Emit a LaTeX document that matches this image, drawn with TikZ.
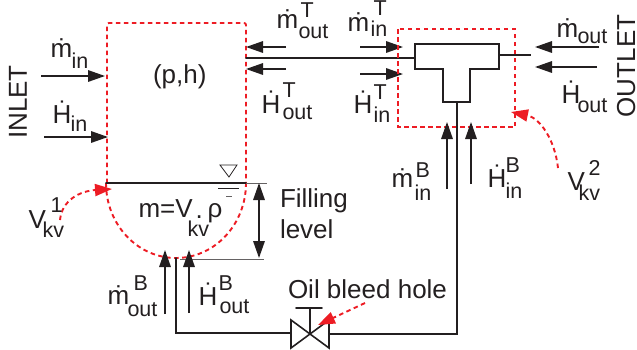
\documentclass[tikz,border=0pt]{standalone}
\usepackage{fontspec}
\setmainfont{Liberation Sans}
\usetikzlibrary{arrows.meta}
\definecolor{ink}{HTML}{231F20}
\definecolor{redl}{HTML}{ED1C24}
\newcommand{\fb}{\fontsize{26}{26}\selectfont}
\newcommand{\fs}{\fontsize{21.5}{21.5}\selectfont}
% piece of text at an offset from the node's base point
\newcommand{\pc}[3]{\makebox[0pt][l]{\hspace*{#1pt}\raisebox{#2pt}{#3}}}
% base, sub dx, sub drop, sub, sup dx, sup rise, sup
\newcommand{\flowlab}[7]{\pc{0}{0}{\fb #1}\pc{#2}{-#3}{\fs #4}\pc{#5}{#6}{\fs #7}}
\tikzset{
  x=1pt,y=-1pt,
  lab/.style={inner sep=0pt,outer sep=0pt,anchor=base west,text=ink,font=\fb},
  flow/.style={draw=ink,line width=1.6pt,-{Triangle[length=17pt,width=11.5pt]}},
  dbl/.style={draw=ink,line width=1.6pt,{Triangle[length=17pt,width=11.5pt]}-{Triangle[length=17pt,width=11.5pt]}},
  pipe/.style={draw=ink,line width=1.6pt,line cap=round,line join=miter},
  thinl/.style={draw=ink!70,line width=1pt},
  reddash/.style={draw=redl,line width=1.9pt,dash pattern=on 4.5pt off 3.5pt},
  redarrow/.style={reddash,-{Triangle[length=17pt,width=12pt]}},
}
\begin{document}
\begin{tikzpicture}
\useasboundingbox (0,0) rectangle (637,349);
% coordinates
\coordinate (tankTL) at (107,23);
\coordinate (tankTR) at (246,23);
\coordinate (levelL) at (106,183);
\coordinate (levelR) at (246,183);
\coordinate (levelE) at (267,183);
\coordinate (botS) at (180,259);
\coordinate (botE) at (264,259);
\coordinate (lvlA) at (259,183);
\coordinate (lvlB) at (259,258);
\coordinate (pipeL) at (246,58);
\coordinate (teeL) at (415,58);
\coordinate (teeR) at (499,55);
\coordinate (pipeR) at (531,55);
\coordinate (teeB) at (457,102);
\coordinate (valveL) at (291,333);
\coordinate (valveR) at (329,334);
\coordinate (corner1) at (457,334);
\coordinate (corner2) at (176,333);
\coordinate (tankB) at (176,258);
\coordinate (valveC) at (310,334);
\coordinate (stemT) at (310,308);

% tank control volume
\draw[reddash,rounded corners=2pt] (107,183) -- (tankTL) -- (tankTR) -- (246,183);
\draw[reddash] (106,183) arc[start angle=180,end angle=360,x radius=70,y radius=-75];
% liquid level
\draw[pipe] (levelL) -- (levelR);
\draw[thinl] (levelR) -- (levelE);
\draw[thinl] (botS) -- (botE);
\draw[dbl] (lvlA) -- (lvlB);
% level mark
\draw[draw=ink,line width=.8pt] (220,165) -- (237,165) -- (229,177) -- cycle;
\draw[draw=ink,line width=.9pt] (218,188) -- (239,188);
\draw[draw=ink!70,line width=.9pt] (226,196) -- (232,196);

% inlet arrows
\coordinate (a1) at (41,76); \coordinate (a2) at (105,76);
\coordinate (b1) at (44,137); \coordinate (b2) at (108,137);
\draw[flow] (a1) -- (a2);
\draw[flow] (b1) -- (b2);
% T out arrows
\coordinate (c1) at (286,47); \coordinate (c2) at (246,47);
\coordinate (d1) at (286,69); \coordinate (d2) at (246,69);
\draw[flow] (c1) -- (c2);
\draw[flow] (d1) -- (d2);
\draw[pipe] (pipeL) -- (teeL);
% T in arrows
\coordinate (e1) at (360,47); \coordinate (e2) at (403,47);
\coordinate (f1) at (360,74); \coordinate (f2) at (403,74);
\draw[flow] (e1) -- (e2);
\draw[flow] (f1) -- (f2);
% tee
\draw[pipe,line join=miter] (415,44) -- (499,44) -- (499,69) -- (470,69) -- (470,102) -- (443,102) -- (443,69) -- (415,69) -- cycle;
\draw[draw=ink,line width=1.2pt] (teeR) -- (pipeR);
% red box
\draw[reddash] (398,29) rectangle (515,127);
% outlet arrows
\coordinate (g1) at (599,47); \coordinate (g2) at (535,47);
\coordinate (h1) at (597,67); \coordinate (h2) at (535,67);
\draw[flow] (g1) -- (g2);
\draw[flow] (h1) -- (h2);
% bottom pipe
\draw[pipe] (teeB) -- (corner1) -- (valveR);
\draw[pipe] (valveL) -- (corner2) -- (tankB);
% valve
\draw[pipe] (291,320) -- (329,348) -- (329,320) -- (291,348) -- cycle;
\draw[pipe] (valveC) -- (stemT);
\draw[pipe] (296,308) -- (322,308);
% vertical arrows
\coordinate (i1) at (447,189); \coordinate (i2) at (447,122);
\coordinate (j1) at (471,184); \coordinate (j2) at (471,122);
\coordinate (k1) at (165,314); \coordinate (k2) at (165,250);
\coordinate (l1) at (189,313); \coordinate (l2) at (189,250);
\draw[flow] (i1) -- (i2);
\draw[flow] (j1) -- (j2);
\draw[flow] (k1) -- (k2);
\draw[flow] (l1) -- (l2);
% red pointers
\coordinate (p1) at (60,220); \coordinate (p2) at (112,189);
\coordinate (q1) at (558,168); \coordinate (q2) at (511,112);
\coordinate (r1) at (365,303); \coordinate (r2) at (318,325);
\draw[redarrow] (p1) .. controls (62,200) and (80,191) .. (p2);
\draw[redarrow] (q1) .. controls (555,140) and (540,118) .. (q2);
\draw[redarrow] (r1) -- (r2);

% labels
\node[lab] (mi) at (50,57) {\flowlab{\.m}{21}{11}{in}{0}{0}{}};
\node[lab] (hi) at (52,123) {\flowlab{\.H}{18}{8}{in}{0}{0}{}};
\node[lab] (mot) at (276,28) {\flowlab{\.m}{22}{10}{out}{24}{11}{T}};
\node[lab] (hot) at (261,113) {\flowlab{\.H}{21}{6}{out}{21}{16}{T}};
\node[lab] (mit) at (347,31) {\flowlab{\.m}{23}{5}{in}{26}{16}{T}};
\node[lab] (hit) at (353,113) {\flowlab{\.H}{20}{9}{in}{20}{14}{T}};
\node[lab] (mo) at (556,37) {\flowlab{\.m}{21}{6}{out}{0}{0}{}};
\node[lab] (ho) at (561,103) {\flowlab{\.H}{16}{9}{out}{0}{0}{}};
\node[lab] (mob) at (107,304) {\flowlab{\.m}{20}{12}{out}{26}{14}{B}};
\node[lab] (hob) at (198,305) {\flowlab{\.H}{21}{8}{out}{20}{15}{B}};
\node[lab] (mib) at (391,187) {\flowlab{\.m}{23}{13}{in}{24}{10}{B}};
\node[lab] (hib) at (487,187) {\flowlab{\.H}{18}{11}{in}{18}{15}{B}};
\node[lab] (v1) at (28,228) {\flowlab{V}{14}{9}{kv}{22}{16}{1}};
\node[lab] (v2) at (567,190) {\flowlab{V}{11}{10}{kv}{21}{15}{2}};
\node[lab] (ph) at (153,83) {(p,h)};
\node[lab] (mass) at (138,217) {\pc{0}{0}{\fb m=V}\pc{49}{-19}{\fs kv}\pc{57}{-1}{\fb .}\pc{69}{0}{\fb ρ}};
\node[lab] (fill) at (280,207) {Filling};
\node[lab] (lev) at (280,238) {level};
\node[lab] (oil) at (288,298) {Oil bleed hole};
\node[lab,anchor=base,rotate=90] (inl) at (27,102) {INLET};
\node[lab,anchor=base,rotate=90] (outl) at (635,66) {OUTLET};
\end{tikzpicture}
\end{document}
